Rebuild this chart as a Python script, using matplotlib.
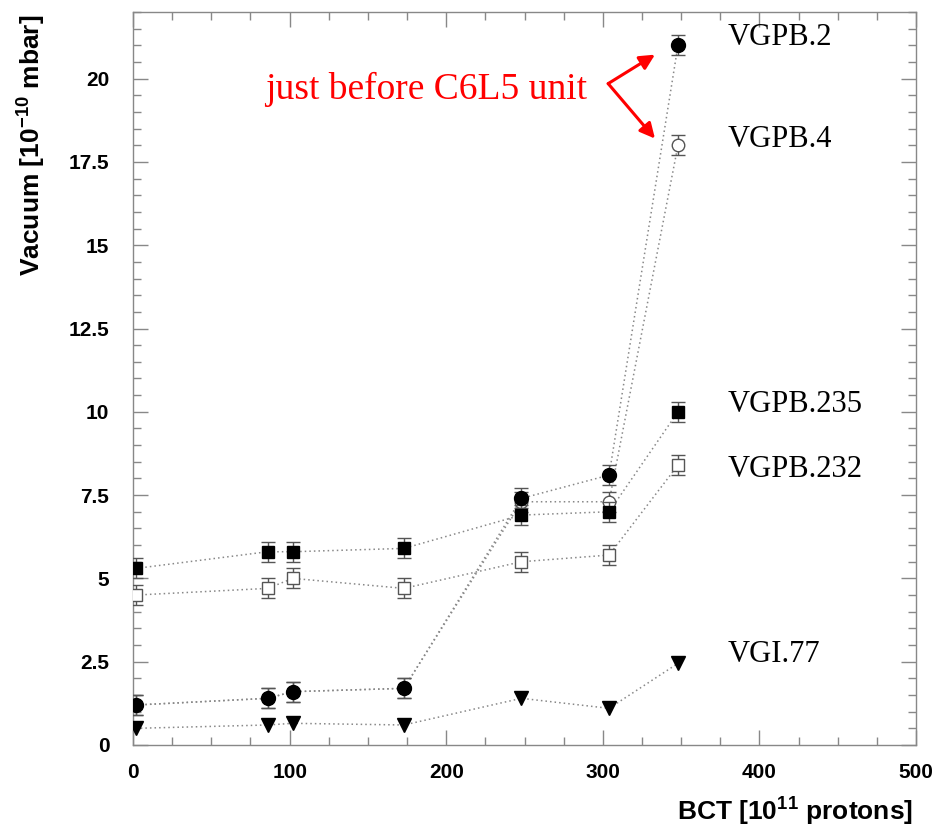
import matplotlib
matplotlib.use("Agg")
import matplotlib.pyplot as plt
from matplotlib.ticker import MultipleLocator

plt.rcParams["mathtext.fontset"] = "custom"
plt.rcParams["mathtext.bf"] = "Liberation Sans:bold"
plt.rcParams["mathtext.rm"] = "Liberation Sans:bold"

# BCT intensity, 10^11 protons
bct = [2, 86, 102, 173, 248, 304, 348]

# vacuum readings, 10^-10 mbar
vgpb_2 = [1.2, 1.4, 1.6, 1.7, 7.4, 8.1, 21.0]
vgpb_4 = [1.2, 1.4, 1.6, 1.7, 7.3, 7.3, 18.0]
vgpb_235 = [5.3, 5.8, 5.8, 5.9, 6.9, 7.0, 10.0]
vgpb_232 = [4.5, 4.7, 5.0, 4.7, 5.5, 5.7, 8.4]
vgi_77 = [0.5, 0.6, 0.65, 0.6, 1.4, 1.1, 2.45]
err = 0.3

labels = ["VGPB.2", "VGPB.4", "VGPB.235", "VGPB.232", "VGI.77"]
label_y = [21.0, 17.96, 9.98, 8.04, 2.49]

GREY = "#888888"
EDGE = "#555555"

fig = plt.figure(figsize=(9.37, 8.32), dpi=100)
ax = fig.add_axes([0.142, 0.1046, 0.8356, 0.881])

line_kw = dict(linestyle=(0, (1, 2)), color=GREY, linewidth=1.1)
err_kw = dict(ecolor=EDGE, elinewidth=1.0, capsize=5, capthick=1.0)

# open markers first, filled ones drawn on top
ax.plot(bct, vgpb_232, **line_kw, zorder=1)
ax.errorbar(bct, vgpb_232, yerr=err, fmt="s", ms=9, mfc="white", mec=EDGE,
            mew=1.0, zorder=3, **err_kw)
ax.plot(bct, vgpb_4, **line_kw, zorder=1)
ax.errorbar(bct, vgpb_4, yerr=err, fmt="o", ms=9, mfc="white", mec=EDGE,
            mew=1.0, zorder=3, **err_kw)
ax.plot(bct, vgpb_235, **line_kw, zorder=1)
ax.errorbar(bct, vgpb_235, yerr=err, fmt="s", ms=9, color="black", zorder=4,
            **err_kw)
ax.plot(bct, vgpb_2, **line_kw, zorder=1)
ax.errorbar(bct, vgpb_2, yerr=err, fmt="o", ms=10, color="black", zorder=4,
            **err_kw)
ax.plot(bct, vgi_77, **line_kw, zorder=1)
ax.plot(bct, vgi_77, "v", ms=10, color="black", linestyle="none", zorder=4)

for name, yy in zip(labels, label_y):
    ax.text(380, yy, name, family="Liberation Serif", fontsize=22,
            ha="left", va="baseline")

ax.text(84.3, 19.4, "just before C6L5 unit", family="Liberation Serif",
        fontsize=27, color="red", ha="left", va="baseline")
for tip in [(333.3, 20.72), (333.3, 18.2)]:
    ax.annotate("", xy=tip, xytext=(303.4, 19.85),
                arrowprops=dict(arrowstyle="-|>,head_length=0.9,head_width=0.45",
                                color="red", lw=2.2, shrinkA=0, shrinkB=0))

ax.set_xlim(0, 500)
ax.set_ylim(0, 22)
ax.xaxis.set_major_locator(MultipleLocator(100))
ax.xaxis.set_minor_locator(MultipleLocator(25))
ax.yaxis.set_minor_locator(MultipleLocator(0.5))
ax.set_yticks([0, 2.5, 5, 7.5, 10, 12.5, 15, 17.5, 20])
ax.set_yticklabels(["0", "2.5", "5", "7.5", "10", "12.5", "15", "17.5", "20"])

ax.tick_params(which="both", direction="in", top=True, right=True,
               color=GREY, width=1.0)
ax.tick_params(which="major", length=11)
ax.tick_params(which="minor", length=6)
ax.tick_params(axis="x", pad=13)
ax.tick_params(axis="y", pad=17)
for lab in ax.get_xticklabels() + ax.get_yticklabels():
    lab.set_family("Liberation Sans")
    lab.set_fontweight("bold")
    lab.set_fontsize(15)
for sp in ax.spines.values():
    sp.set_color(GREY)
    sp.set_linewidth(1.0)

ax.text(0.996, -0.09, r"BCT [10$^{\mathbf{11}}$ protons]", transform=ax.transAxes,
        family="Liberation Sans", fontweight="bold", fontsize=19,
        ha="right", va="center")
ax.text(-0.1315, 0.996, r"Vacuum [10$^{\mathbf{-10}}$ mbar]", transform=ax.transAxes,
        family="Liberation Sans", fontweight="bold", fontsize=19,
        rotation=90, ha="center", va="top")

fig.savefig("out.png", dpi=100)
